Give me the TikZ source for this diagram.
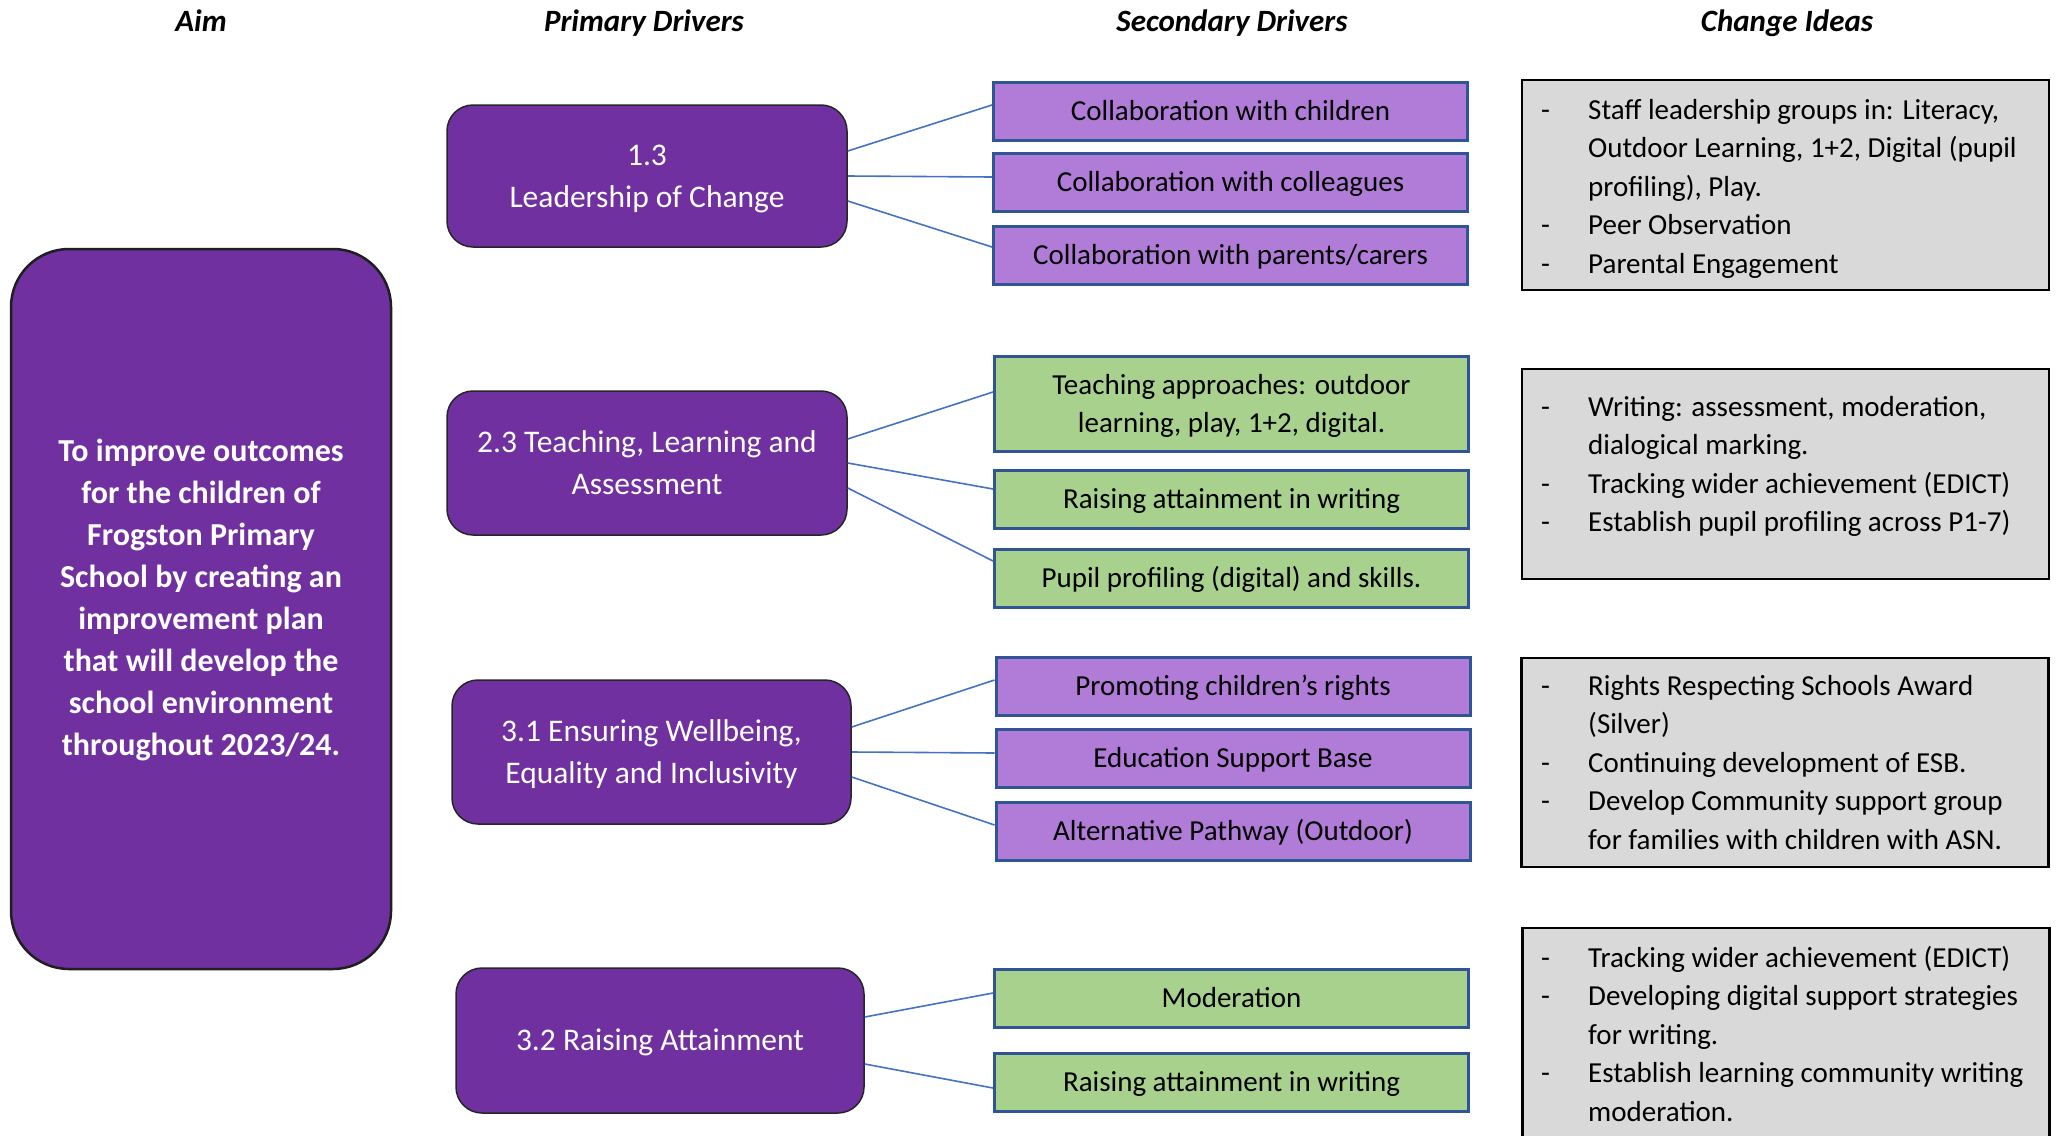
\documentclass[tikz,border=0pt]{standalone}
\usepackage{fontspec}
\setmainfont{Carlito}
\definecolor{dpurple}{RGB}{112,48,160}
\definecolor{lpurple}{RGB}{176,124,216}
\definecolor{lgreen}{RGB}{169,209,142}
\definecolor{lgray}{RGB}{217,217,217}
\definecolor{bdrblue}{RGB}{47,85,151}
\definecolor{linkblue}{RGB}{68,114,196}
% line strut so that text is centred on its line boxes
\newcommand\ls{\rule[-0.23em]{0pt}{1.1em}}
% bullet item and continuation line in the change-idea lists
\newcommand\itm[1]{\makebox[47pt][l]{-}#1}
\newcommand\cnt[1]{\hspace*{47pt}#1}
\tikzset{
  hdr/.style={anchor=base, inner sep=0pt, font=\fontsize{31}{38}\selectfont\bfseries\itshape},
  aimbox/.style={draw=black!88, line width=2.5pt, fill=dpurple, rounded corners=58pt,
                 minimum width=380pt, minimum height=720pt},
  aimtext/.style={text=white, align=center, inner sep=0pt, font=\fontsize{32}{42}\selectfont\bfseries},
  pribox/.style={draw=black!85, line width=1.5pt, fill=dpurple, rounded corners=26pt, text=white,
                 align=center, inner sep=0pt, font=\fontsize{31.5}{42}\selectfont},
  secbox/.style={draw=bdrblue, line width=3pt, align=center, inner sep=0pt,
                 font=\fontsize{29}{38}\selectfont, minimum width=474pt, minimum height=58pt},
  secP/.style={secbox, fill=lpurple},
  secG/.style={secbox, fill=lgreen},
  ideabox/.style={draw=black, line width=2.5pt, fill=lgray, inner sep=0pt, minimum width=527pt},
  ideatext/.style={anchor=base west, inner sep=0pt, font=\fontsize{29}{38.5}\selectfont},
  link/.style={draw=linkblue, line width=1.6pt},
}
\begin{document}
\begin{tikzpicture}[x=1pt, y=-1pt]
\useasboundingbox (0,0) rectangle (2060,1135);
\clip (0,0) rectangle (2060,1135);
\fill[white] (0,0) rectangle (2060,1135);

% column headings
\node[hdr] (hAim) at (201,31) {Aim};
\node[hdr] (hPri) at (644,31) {Primary Drivers};
\node[hdr] (hSec) at (1232,31) {Secondary Drivers};
\node[hdr] (hIdea) at (1787,31) {Change Ideas};

% aim
\node[aimbox] (aim) at (201,609) {};
\node[aimtext] (aimtxt) at (201,598) {\ls To improve outcomes\\ for the children of\\ Frogston Primary\\ School by creating an\\ improvement plan\\ that will develop the\\ school environment\\ throughout 2023/24.\ls};

% primary drivers
\node[pribox, minimum width=400pt, minimum height=142pt] (p1) at (647,176) {\ls 1.3\\ Leadership of Change\ls};
\node[pribox, minimum width=400pt, minimum height=144pt] (p2) at (647,463) {\ls 2.3 Teaching, Learning and\\ Assessment\ls};
\node[pribox, minimum width=399pt, minimum height=144pt] (p3) at (651.5,752) {\ls 3.1 Ensuring Wellbeing,\\ Equality and Inclusivity\ls};
\node[pribox, minimum width=408pt, minimum height=145pt] (p4) at (660,1040.5) {\ls 3.2 Raising Attainment\ls};

% secondary drivers
\node[secP] (s1a) at (1230.5,111.5) {\ls Collaboration with children\ls};
\node[secP] (s1b) at (1230.5,182.5) {\ls Collaboration with colleagues\ls};
\node[secP] (s1c) at (1230.5,255) {\ls Collaboration with parents/carers\ls};

\node[secG, minimum height=95pt] (s2a) at (1231.5,404) {\ls Teaching approaches: outdoor\\ learning, play, 1+2, digital.\ls};
\node[secG] (s2b) at (1231.5,499) {\ls Raising attainment in writing\ls};
\node[secG] (s2c) at (1231.5,578) {\ls Pupil profiling (digital) and skills.\ls};

\node[secP] (s3a) at (1233,686.5) {\ls Promoting children’s rights\ls};
\node[secP] (s3b) at (1233,758.5) {\ls Education Support Base\ls};
\node[secP] (s3c) at (1233,831.5) {\ls Alternative Pathway (Outdoor)\ls};

\node[secG] (s4a) at (1231.5,998.5) {\ls Moderation\ls};
\node[secG] (s4b) at (1231.5,1082.5) {\ls Raising attainment in writing\ls};

% connectors
\draw[link] ([yshift=25pt]p1.east) -- ([yshift=6.5pt]s1a.west);
\draw[link] (p1.east) -- ([yshift=5.5pt]s1b.west);
\draw[link] ([yshift=-25pt]p1.east) -- ([yshift=8pt]s1c.west);

\draw[link] ([yshift=24pt]p2.east) -- ([yshift=12pt]s2a.west);
\draw[link] (p2.east) -- ([yshift=10pt]s2b.west);
\draw[link] ([yshift=-25pt]p2.east) -- ([yshift=17pt]s2c.west);

\draw[link] ([yshift=25pt]p3.east) -- ([yshift=6.5pt]s3a.west);
\draw[link] (p3.east) -- ([yshift=5.5pt]s3b.west);
\draw[link] ([yshift=-25pt]p3.east) -- ([yshift=6.5pt]s3c.west);

\draw[link] ([yshift=23.5pt]p4.east) -- ([yshift=5.5pt]s4a.west);
\draw[link] ([yshift=-23.5pt]p4.east) -- ([yshift=-5.5pt]s4b.west);

% change ideas
\node[ideabox, minimum height=210pt] (c1) at (1785.5,185) {};
\node[ideatext] (c1t) at (1541,119) {\parbox[t]{500pt}{\raggedright
  \itm{Staff leadership groups in: Literacy,}\\
  \cnt{Outdoor Learning, 1+2, Digital (pupil}\\
  \cnt{profiling), Play.}\\
  \itm{Peer Observation}\\
  \itm{Parental Engagement}}};

\node[ideabox, minimum height=210pt] (c2) at (1785.5,474) {};
\node[ideatext] (c2t) at (1541,416) {\parbox[t]{500pt}{\raggedright
  \itm{Writing: assessment, moderation,}\\
  \cnt{dialogical marking.}\\
  \itm{Tracking wider achievement (EDICT)}\\
  \itm{Establish pupil profiling across P1-7)}}};

\node[ideabox, minimum height=209pt] (c3) at (1785,762.5) {};
\node[ideatext] (c3t) at (1541,695) {\parbox[t]{500pt}{\raggedright
  \itm{Rights Respecting Schools Award}\\
  \cnt{(Silver)}\\
  \itm{Continuing development of ESB.}\\
  \itm{Develop Community support group}\\
  \cnt{for families with children with ASN.}}};

\node[ideabox, minimum height=222pt] (c4) at (1786,1039) {};
\node[ideatext] (c4t) at (1541,967) {\parbox[t]{500pt}{\raggedright
  \itm{Tracking wider achievement (EDICT)}\\
  \itm{Developing digital support strategies}\\
  \cnt{for writing.}\\
  \itm{Establish learning community writing}\\
  \cnt{moderation.}}};
\end{tikzpicture}
\end{document}
